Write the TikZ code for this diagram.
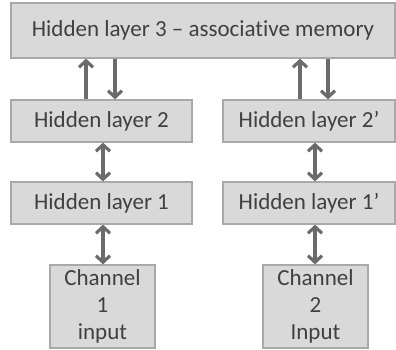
\documentclass[tikz,border=0pt]{standalone}
\usepackage{fontspec}
\setmainfont{Carlito}[Ligatures=NoCommon]
\usetikzlibrary{arrows.meta}

\definecolor{boxfill}{HTML}{D9D9D9}
\definecolor{boxline}{HTML}{A9A9A9}
\definecolor{arrline}{HTML}{6B6B6B}

\begin{document}
\begin{tikzpicture}[x=1pt, y=1pt,
    layer/.style={rectangle, draw=boxline, line width=1.2pt, fill=boxfill, inner sep=0pt,
      text=black!75, font=\fontsize{23}{27}\selectfont, align=center},
    arr/.style={draw=arrline, line width=3.2pt, -{Straight Barb[length=6.5pt, width=14pt]}},
    darr/.style={draw=arrline, line width=3.2pt, {Straight Barb[length=6.5pt, width=14pt]}-{Straight Barb[length=6.5pt, width=14pt]}}]
      \useasboundingbox (0,0) rectangle (396,350);

      \node[layer, minimum width=384pt, minimum height=55pt] (h3) at (203,319.5) {Hidden layer 3 -- associative memory};

      \node[layer, minimum width=181pt, minimum height=42pt] (h2) at (101.5,229) {Hidden layer 2};
      \node[layer, minimum width=172pt, minimum height=42pt] (h2p) at (309,229) {Hidden layer 2’};

      \node[layer, minimum width=181pt, minimum height=42pt] (h1) at (101.5,147) {Hidden layer 1};
      \node[layer, minimum width=172pt, minimum height=42pt] (h1p) at (309,147) {Hidden layer 1’};

      \node[layer, minimum width=105pt, minimum height=83pt] (c1) at (102.5,43.5) {Channel\\1\\input};
      \node[layer, minimum width=105pt, minimum height=83pt] (c2) at (315.5,43.5) {Channel\\2\\Input};

      \draw[arr] (h2.north -| 86,0) -- (h3.south -| 86,0);
      \draw[arr] (h3.south -| 115,0) -- (h2.north -| 115,0);
      \draw[arr] (h2p.north -| 300,0) -- (h3.south -| 300,0);
      \draw[arr] (h3.south -| 328,0) -- (h2p.north -| 328,0);

      \draw[darr] (h1.north -| 103,0) -- (h2.south -| 103,0);
      \draw[darr] (h1p.north -| 315,0) -- (h2p.south -| 315,0);
      \draw[darr] (c1.north -| 103,0) -- (h1.south -| 103,0);
      \draw[darr] (c2.north -| 315,0) -- (h1p.south -| 315,0);
\end{tikzpicture}
\end{document}
